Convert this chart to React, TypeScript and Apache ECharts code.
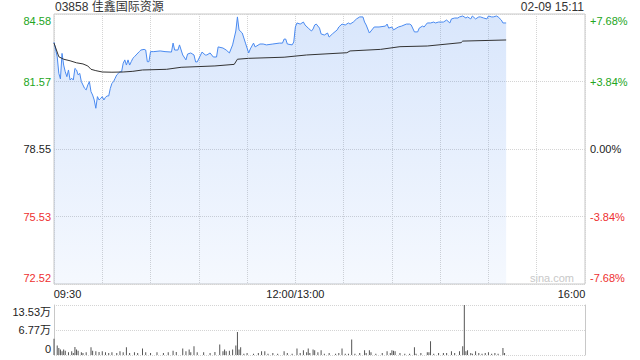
import React, { useEffect, useRef } from "react";
import * as echarts from "echarts";

const FONT = '"Liberation Sans", Arial, "Noto Sans CJK SC", sans-serif';

const title = "03858 佳鑫国际资源";
const stamp = "02-09 15:11";
const prevClose = 78.55;

const priceTickLabels = ["72.52", "75.53", "78.55", "81.57", "84.58"];
const pctTickLabels = ["-7.68%", "-3.84%", "0.00%", "+3.84%", "+7.68%"];
const volTickLabels = ["0", "6.77万", "13.53万"];
const timeLabels: Record<number, string> = { 0: "09:30", 150: "12:00/13:00", 330: "16:00" };

// [minute index since 09:30 (lunch removed), price]
const priceData: [number, number][] = [
  [0, 83.32], [2, 82.67], [3, 81.93], [4, 81.68], [5, 82.82], [6, 82.3], [7, 82.0], [8, 81.78],
  [9, 82.08], [10, 81.63], [11, 81.71], [12, 81.63], [13, 82.15], [14, 82.08], [15, 81.86],
  [16, 81.93], [17, 81.56], [18, 81.41], [19, 81.26], [20, 81.19], [21, 81.41], [22, 81.56],
  [23, 81.11], [24, 80.96], [25, 80.74], [26, 80.37], [27, 80.89], [28, 80.74], [29, 80.81],
  [30, 80.89], [31, 80.74], [32, 80.86], [33, 80.92], [34, 80.92], [35, 81.26], [36, 81.48],
  [37, 81.56], [38, 81.71], [39, 81.86], [40, 81.93], [41, 82.0], [42, 82.0], [43, 82.38],
  [44, 82.53], [45, 82.3], [46, 82.53], [47, 82.3], [48, 82.45], [49, 82.6], [50, 82.67],
  [51, 82.75], [53, 82.9], [54, 82.97], [56, 83.0], [57, 82.97], [58, 82.45], [59, 82.45],
  [60, 82.9], [62, 82.9], [66, 82.93], [69, 82.9], [73, 82.88], [74, 83.28], [75, 82.97],
  [77, 82.97], [78, 83.2], [80, 82.75], [82, 82.53], [83, 82.79], [85, 82.84], [87, 82.75],
  [88, 82.44], [89, 82.44], [92, 82.88], [94, 82.75], [95, 82.75], [97, 82.84], [99, 82.66],
  [101, 82.66], [102, 83.11], [105, 83.06], [107, 82.97], [109, 82.84], [111, 83.2],
  [113, 83.82], [114, 84.45], [115, 83.87], [117, 83.73], [119, 83.28], [120, 83.06],
  [121, 82.84], [122, 83.02], [124, 83.28], [125, 83.11], [128, 83.24], [130, 83.24],
  [132, 83.2], [136, 83.24], [140, 83.28], [142, 83.28], [143, 83.46], [144, 83.46],
  [145, 83.24], [148, 83.2], [149, 83.33], [150, 84.0], [151, 84.18], [153, 84.13],
  [155, 84.22], [156, 84.09], [158, 83.95], [160, 83.82], [161, 83.91], [162, 84.09],
  [163, 84.13], [165, 83.95], [166, 83.69], [168, 83.64], [170, 83.73], [171, 83.55],
  [173, 83.69], [176, 83.87], [177, 84.0], [179, 84.13], [181, 84.09], [183, 84.18],
  [184, 84.13], [186, 84.22], [188, 84.36], [190, 84.45], [192, 84.45], [193, 84.22],
  [194, 84.09], [196, 83.73], [198, 83.91], [199, 84.0], [202, 84.0], [206, 84.04],
  [207, 84.13], [208, 83.95], [210, 84.0], [211, 83.87], [214, 84.0], [216, 84.04],
  [219, 84.13], [221, 84.13], [222, 84.09], [224, 83.78], [226, 83.78], [227, 83.95],
  [229, 84.04], [230, 84.0], [232, 84.18], [234, 84.18], [236, 84.22], [237, 84.18],
  [239, 84.22], [242, 84.22], [244, 84.31], [246, 84.18], [247, 84.36], [249, 84.4],
  [251, 84.4], [252, 84.45], [254, 84.49], [256, 84.4], [257, 84.45], [259, 84.36],
  [260, 84.49], [262, 84.36], [264, 84.45], [265, 84.45], [267, 84.4], [269, 84.36],
  [270, 84.49], [272, 84.45], [273, 84.45], [275, 84.49], [276, 84.45], [278, 84.31],
  [279, 84.18], [281, 84.18],
];

const avgData: [number, number][] = [
  [0, 83.28], [3, 82.67], [6, 82.56], [10, 82.49], [14, 82.4], [18, 82.35], [21, 82.26],
  [23, 82.11], [26, 82.05], [30, 81.99], [36, 81.98], [43, 81.99], [49, 82.02], [55, 82.08],
  [70, 82.11], [79, 82.2], [100, 82.26], [112, 82.33], [114, 82.56], [121, 82.6], [143, 82.65],
  [157, 82.75], [182, 82.85], [184, 82.93], [203, 83.0], [215, 83.12], [232, 83.15],
  [253, 83.3], [254, 83.37], [281, 83.42],
];

// [minute, volume in 万 shares]
const volData: [number, number][] = [
  [0, 4.37], [2, 2.55], [3, 1.91], [4, 1.46], [5, 1.0], [6, 1.46], [7, 1.18], [9, 0.73],
  [11, 1.0], [12, 0.55], [13, 2.19], [14, 1.46], [15, 1.18], [17, 0.73], [18, 0.55],
  [20, 0.73], [23, 2.1], [24, 1.18], [26, 1.0], [28, 0.82], [30, 1.0], [32, 0.73],
  [34, 0.55], [36, 0.73], [39, 0.55], [41, 1.0], [43, 0.73], [45, 2.1], [47, 0.55],
  [50, 0.73], [52, 0.55], [55, 1.73], [57, 0.73], [60, 0.55], [64, 0.73], [68, 0.55],
  [71, 0.73], [74, 1.18], [76, 0.82], [80, 1.73], [82, 1.0], [84, 1.46], [85, 0.73],
  [87, 2.37], [89, 0.73], [93, 0.73], [97, 0.55], [100, 0.82], [103, 2.82], [105, 1.0],
  [106, 1.46], [107, 1.0], [109, 1.18], [111, 1.46], [113, 2.55], [114, 6.2], [115, 1.46],
  [116, 2.1], [118, 0.36], [120, 0.55], [124, 0.36], [127, 0.55], [129, 1.0], [131, 1.0],
  [133, 0.36], [136, 0.55], [139, 0.36], [143, 1.0], [145, 0.55], [148, 0.36], [151, 1.73],
  [153, 0.55], [155, 1.28], [157, 0.73], [158, 1.73], [159, 0.55], [161, 1.46], [162, 1.28],
  [164, 0.73], [166, 1.28], [168, 0.36], [171, 0.55], [175, 0.36], [177, 0.55], [179, 1.73],
  [181, 0.36], [183, 0.36], [185, 4.19], [187, 0.36], [190, 0.55], [193, 1.28], [194, 0.55],
  [196, 1.28], [197, 0.73], [200, 0.36], [204, 0.55], [207, 1.0], [209, 0.55], [210, 1.28],
  [211, 1.18], [212, 1.0], [215, 0.55], [218, 0.36], [221, 0.36], [224, 2.1], [225, 0.36],
  [228, 0.55], [232, 0.73], [233, 0.73], [234, 3.74], [236, 0.36], [239, 0.55], [242, 0.55],
  [244, 0.55], [247, 1.0], [249, 0.55], [252, 1.0], [254, 2.37], [255, 13.53], [256, 1.0],
  [257, 1.28], [259, 0.55], [260, 0.36], [262, 1.0], [264, 0.55], [266, 0.36], [268, 0.55],
  [270, 0.73], [272, 0.36], [274, 0.55], [276, 0.36], [279, 1.91], [280, 0.55],
];

const UP = "#22a522";
const DOWN = "#ee3030";
const FLAT = "#222";
const GRIDC = "#c8c8c8";

export default function App() {
  const ref = useRef<HTMLDivElement>(null);
  useEffect(() => {
    if (!ref.current) return;
    const chart = echarts.init(ref.current, null, { renderer: "svg" });
    const step = 301.5; // cents, price tick step
    const toDev = (p: number) => Math.round((p - prevClose) * 100);
    const tickIdx = (v: number) => Math.round((v + 2 * step) / step);
    const richFor = (base: string) => ({
      [base + "T"]: { color: base === "u" ? UP : base === "d" ? DOWN : FLAT, fontSize: 11, padding: [13, 0, 0, 0] },
      [base + "M"]: { color: base === "u" ? UP : base === "d" ? DOWN : FLAT, fontSize: 11 },
      [base + "B"]: { color: base === "u" ? UP : base === "d" ? DOWN : FLAT, fontSize: 11, padding: [0, 0, 12, 0] },
    });
    const rich = { ...richFor("u"), ...richFor("d"), ...richFor("f") };
    const fmtTick = (labels: string[]) => (v: number) => {
      const i = tickIdx(v);
      const c = i > 2 ? "u" : i < 2 ? "d" : "f";
      const pos = i === 4 ? "T" : i === 0 ? "B" : "M";
      return `{${c}${pos}|${labels[i]}}`;
    };

    const option: any = {
      animation: false,
      textStyle: { fontFamily: FONT },
      grid: [
        { left: 54, right: 55, top: 14, height: 270, show: true, borderColor: GRIDC, borderWidth: 1, backgroundColor: "transparent" },
        { left: 54, right: 55, top: 305, height: 50 },
      ],
      xAxis: [
        {
          type: "value", gridIndex: 0, min: 0, max: 330, interval: 30,
          axisLine: { show: false }, axisTick: { show: false },
          splitLine: { show: true, lineStyle: { color: "#d4d4d4", type: "dotted", width: 1 } },
          axisLabel: {
            margin: 4, fontSize: 11, color: "#222", fontFamily: FONT,
            formatter: (v: number) => {
              const t = timeLabels[v];
              if (!t) return "";
              if (v === 0) return `{l|${t}}`;
              if (v === 330) return `{r|${t}}`;
              return `{c|${t}}`;
            },
            rich: {
              l: { fontSize: 11, color: "#222", padding: [0, 0, 0, 27] },
              r: { fontSize: 11, color: "#222", padding: [0, 27, 0, 0] },
              c: { fontSize: 11, color: "#222" },
            },
          },
        },
        {
          type: "value", gridIndex: 1, min: 0, max: 330, interval: 30,
          axisLine: { show: false }, axisTick: { show: false }, axisLabel: { show: false }, splitLine: { show: false },
        },
      ],
      yAxis: [
        {
          type: "value", gridIndex: 0, position: "left", min: -2 * step, max: 2 * step, interval: step,
          axisLine: { show: false }, axisTick: { show: false },
          splitLine: { show: true, lineStyle: { color: "#d4d4d4", type: "dotted", width: 1 } },
          axisLabel: { margin: 3, fontFamily: FONT, formatter: fmtTick(priceTickLabels), rich },
        },
        {
          type: "value", gridIndex: 0, position: "right", min: -2 * step, max: 2 * step, interval: step,
          axisLine: { show: false }, axisTick: { show: false }, splitLine: { show: false },
          axisLabel: { margin: 5, fontFamily: FONT, formatter: fmtTick(pctTickLabels), rich },
        },
        {
          type: "value", gridIndex: 1, position: "left", min: 0, max: 13.53, interval: 6.765,
          axisLine: { show: true, lineStyle: { color: GRIDC } }, axisTick: { show: false },
          splitLine: { show: true, lineStyle: { color: "#d4d4d4", type: "dotted", width: 1 } },
          axisLabel: {
            margin: 3, fontFamily: FONT,
            formatter: (v: number) => {
              const i = Math.round(v / 6.765);
              const pos = i === 2 ? "T" : i === 0 ? "B" : "M";
              return `{f${pos}|${volTickLabels[i]}}`;
            },
            rich,
          },
        },
        {
          type: "value", gridIndex: 1, position: "right", min: 0, max: 13.53, interval: 6.765,
          axisLine: { show: true, lineStyle: { color: GRIDC } }, axisTick: { show: false },
          splitLine: { show: false }, axisLabel: { show: false },
        },
      ],
      series: [
        {
          type: "line", xAxisIndex: 0, yAxisIndex: 0, showSymbol: false, symbol: "none",
          data: priceData.map(([t, p]) => [t, toDev(p)]),
          lineStyle: { color: "#4a8af0", width: 1 },
          areaStyle: {
            origin: "start",
            color: new echarts.graphic.LinearGradient(0, 0, 0, 1, [
              { offset: 0, color: "rgba(74,138,240,0.30)" },
              { offset: 1, color: "rgba(74,138,240,0.08)" },
            ]),
          },
          z: 3,
        },
        {
          type: "line", xAxisIndex: 0, yAxisIndex: 0, showSymbol: false, symbol: "none",
          data: avgData.map(([t, p]) => [t, toDev(p)]),
          lineStyle: { color: "#333", width: 1 },
          z: 4,
        },
        {
          type: "bar", xAxisIndex: 1, yAxisIndex: 2, barWidth: 1,
          data: volData,
          itemStyle: { color: "#555" },
        },
      ],
      graphic: [
        { type: "text", left: 55, top: 1, style: { text: title, fontSize: 12, fill: "#333", fontFamily: FONT } },
        { type: "text", right: 56, top: 1, style: { text: stamp, fontSize: 12, fill: "#333", fontFamily: FONT } },
        { type: "text", right: 66, top: 272, style: { text: "sina.com", fontSize: 11, fill: "#c8c8c8", fontFamily: FONT } },
      ],
    };
    chart.setOption(option);
    return () => chart.dispose();
  }, []);
  return (
    <div
      ref={ref}
      style={{ position: "fixed", left: 0, top: 0, width: 640, height: 360, background: "#fff" }}
    />
  );
}
